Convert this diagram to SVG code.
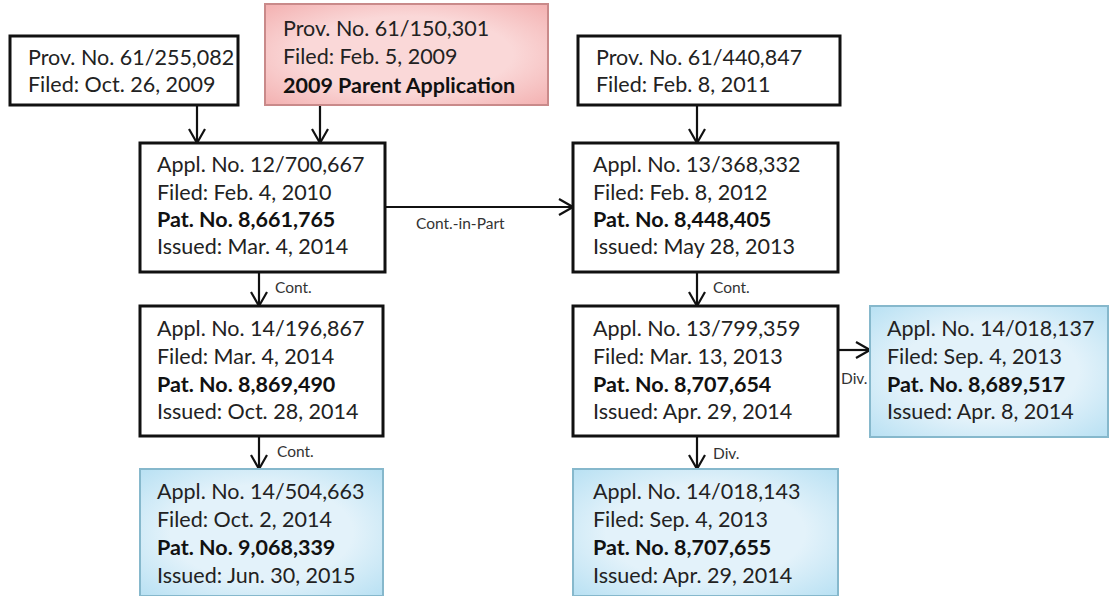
<svg xmlns="http://www.w3.org/2000/svg" width="1109" height="596" viewBox="0 0 1109 596">
<defs>
<style>
.box{fill:#fff;stroke:#111;stroke-width:3}
.pink{fill:url(#pg);stroke:#c98a8a;stroke-width:2}
.blue{fill:url(#bg);stroke:#86b8cc;stroke-width:2}
text{font-family:Lato,"Liberation Sans",sans-serif;font-size:21.5px;fill:#222}
.b{font-weight:bold;fill:#111}
.lbl{font-size:15.5px;fill:#333}
.con{stroke:#111;stroke-width:2.2;fill:none;marker-end:url(#ah)}
</style>
<marker id="ah" viewBox="0 0 16 18" refX="15" refY="9" markerWidth="16" markerHeight="18" markerUnits="userSpaceOnUse" orient="auto">
<path d="M1,1 L15,9 L1,17" fill="none" stroke="#111" stroke-width="2.2"/>
</marker>
<radialGradient id="pg" cx="50%" cy="50%" r="75%">
<stop offset="0.5" stop-color="#fad8d8"/>
<stop offset="1" stop-color="#f2abab"/>
</radialGradient>
<radialGradient id="bg" cx="50%" cy="50%" r="75%">
<stop offset="0.5" stop-color="#e3f2fa"/>
<stop offset="1" stop-color="#b2def2"/>
</radialGradient>
</defs>
<rect width="1109" height="596" fill="#fff"/>
<g id="connectors">
<line class="con" x1="197" y1="106" x2="197" y2="143"/>
<line class="con" x1="320" y1="106" x2="320" y2="143"/>
<line class="con" x1="697" y1="106" x2="697" y2="143"/>
<line class="con" x1="386" y1="207" x2="573" y2="207"/>
<text class="lbl" x="416" y="229">Cont.-in-Part</text>
<line class="con" x1="259" y1="273" x2="259" y2="306"/>
<text class="lbl" x="275" y="293">Cont.</text>
<line class="con" x1="697" y1="273" x2="697" y2="306"/>
<text class="lbl" x="713" y="293">Cont.</text>
<line class="con" x1="839" y1="350" x2="870" y2="350"/>
<text class="lbl" x="841" y="384">Div.</text>
<line class="con" x1="259" y1="437" x2="259" y2="469"/>
<text class="lbl" x="277" y="457">Cont.</text>
<line class="con" x1="697" y1="437" x2="697" y2="469"/>
<text class="lbl" x="713" y="459">Div.</text>
</g>
<g id="prov-255082">
<rect class="box" x="10" y="36" width="228" height="69"/>
<text x="28" y="65">Prov. No. 61/255,082</text>
<text x="28" y="92">Filed: Oct. 26, 2009</text>
</g>
<g id="prov-150301">
<rect class="pink" x="265" y="4" width="283" height="101"/>
<text x="283" y="36">Prov. No. 61/150,301</text>
<text x="283" y="64">Filed: Feb. 5, 2009</text>
<text class="b" x="283" y="93">2009 Parent Application</text>
</g>
<g id="prov-440847">
<rect class="box" x="578" y="36" width="262" height="69"/>
<text x="596" y="65">Prov. No. 61/440,847</text>
<text x="596" y="92">Filed: Feb. 8, 2011</text>
</g>
<g id="appl-12700667">
<rect class="box" x="140" y="143" width="245" height="129"/>
<text x="157" y="172">Appl. No. 12/700,667</text>
<text x="157" y="200">Filed: Feb. 4, 2010</text>
<text class="b" x="157" y="227">Pat. No. 8,661,765</text>
<text x="157" y="254">Issued: Mar. 4, 2014</text>
</g>
<g id="appl-13368332">
<rect class="box" x="573" y="143" width="265" height="129"/>
<text x="593" y="172">Appl. No. 13/368,332</text>
<text x="593" y="200">Filed: Feb. 8, 2012</text>
<text class="b" x="593" y="227">Pat. No. 8,448,405</text>
<text x="593" y="254">Issued: May 28, 2013</text>
</g>
<g id="appl-14196867">
<rect class="box" x="140" y="306" width="243" height="130"/>
<text x="157" y="336">Appl. No. 14/196,867</text>
<text x="157" y="364">Filed: Mar. 4, 2014</text>
<text class="b" x="157" y="392">Pat. No. 8,869,490</text>
<text x="157" y="419">Issued: Oct. 28, 2014</text>
</g>
<g id="appl-13799359">
<rect class="box" x="573" y="306" width="265" height="130"/>
<text x="593" y="336">Appl. No. 13/799,359</text>
<text x="593" y="364">Filed: Mar. 13, 2013</text>
<text class="b" x="593" y="392">Pat. No. 8,707,654</text>
<text x="593" y="419">Issued: Apr. 29, 2014</text>
</g>
<g id="appl-14018137">
<rect class="blue" x="870" y="306" width="238" height="131"/>
<text x="887" y="336">Appl. No. 14/018,137</text>
<text x="887" y="364">Filed: Sep. 4, 2013</text>
<text class="b" x="887" y="392">Pat. No. 8,689,517</text>
<text x="887" y="419">Issued: Apr. 8, 2014</text>
</g>
<g id="appl-14504663">
<rect class="blue" x="140" y="469" width="243" height="127"/>
<text x="157" y="499">Appl. No. 14/504,663</text>
<text x="157" y="527">Filed: Oct. 2, 2014</text>
<text class="b" x="157" y="555">Pat. No. 9,068,339</text>
<text x="157" y="583">Issued: Jun. 30, 2015</text>
</g>
<g id="appl-14018143">
<rect class="blue" x="573" y="469" width="265" height="127"/>
<text x="593" y="499">Appl. No. 14/018,143</text>
<text x="593" y="527">Filed: Sep. 4, 2013</text>
<text class="b" x="593" y="555">Pat. No. 8,707,655</text>
<text x="593" y="583">Issued: Apr. 29, 2014</text>
</g>
</svg>
